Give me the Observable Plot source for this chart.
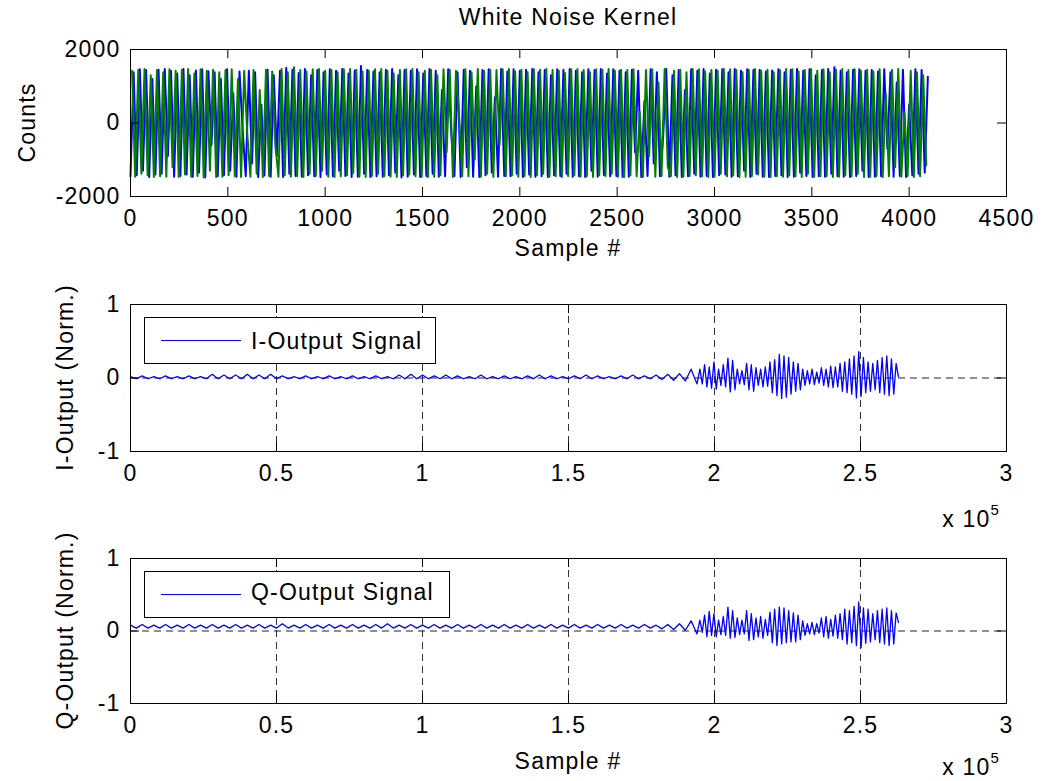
<!DOCTYPE html>
<html>
<head>
<meta charset="utf-8">
<script src="https://cdn.jsdelivr.net/npm/d3@7"></script>
<script src="https://cdn.jsdelivr.net/npm/@observablehq/plot@0.6"></script>
<style>
  html, body { margin: 0; padding: 0; background: #fff; overflow: hidden; }
  #wrap { position: relative; width: 1049px; height: 781px; background: #fff; }
  .pane { position: absolute; left: 0; }
  #overlay { position: absolute; left: 0; top: 0; pointer-events: none; }
</style>
</head>
<body>
<div id="wrap"></div>
<script>
// ---------------- DATA ----------------
// Top panel: white noise kernel (counts); blue read every kernelStep samples, green offset by half a step
const kernelStep = 16;
const kernelBlue = [
  -1450, 1380, -1420, 1460, -1300, 1440, -1470, 1200, -1400, 1450, -1380, 1470, -900, 1420, -1460, 1350,
  -1440, 1470, -1400, 1300, -1460, 1430, -1350, 1460, -1480, 1410, -600, 1380, -1450, 1200, -1420, 1460,
  -1300, 800, -1460, 1400, -200, -1450, 1420, -1100, 1380, -1470, 500, -1430, 1450, -1460, 1300, -900,
  1420, -1470, 1500, -1380, 1450, -1440, 1360, -1460, 1470, -1420, 1300, -1450, 1440, -1470, 1380, -1400,
  1460, -1450, 1420, -1300, 1470, -1440, 1350, -1470, 1430, -1460, 1550, -1380, 1440, -1470, 1400, -1450,
  1380, -1460, 1450, -1420, 1470, -1350, 1300, -1480, 1440, -1460, 1420, -1400, 1460, -1470, 1350, -1440,
  1470, -1380, 1420, -1460, 900, -1450, 1460, -300, -1440, 1380, -1470, 1450, -1200, 1420, -1460, 1000,
  -1470, 1440, -1420, 1460, -1350, 700, -1460, 1470, -1440, 1400, -1450, 1460, -1380, 1420, -1470, 1450,
  -1400, 1470, -1460, 1380, -1450, 1440, -1470, 1300, -1420, 1460, -1440, 1450, -1380, 1470, -1460, 1420,
  -1450, 1380, -1470, 1460, -1300, 1440, -1460, 1470, -1420, 1350, -1450, 1460, -1440, 1420, -1470, 1380,
  -1460, 1450, -800, 1420, -1470, 600, -1440, 1460, -1100, 1380, -1450, -400, 1470, -1460, 1300, -1420,
  1440, -1470, 900, -1450, 1460, -1380, 1420, -1460, 1470, -1440, 1350, -1470, 1450, -1420, 1460, -1400,
  1380, -1460, 1470, -1450, 1420, -1300, 1460, -1470, 1440, -1380, 1450, -1460, 1400, -1470, 1430, -1440,
  1460, -1420, 1380, -1470, 1450, -1460, 1470, -1350, 1420, -1440, 1460, -1470, 1300, -1450, 1440, -1460,
  1470, -1380, 1520, -1450, 1420, -1460, 1380, -1470, 1450, -1440, 1460, -1300, 1420, -1470, 1440, -1460,
  1400, -1450, 1460, -700, 1380, -1460, 1100, -1440, 1450, -1470, 500, -1420, 1460, -1380, 1440, -1350,
  1260
];
const kernelGreen = [
  1420, -1460, 1450, -1380, 1470, -1420, 1300, -1470, 1440, -1450, 1380, -1460, 1460, -1200, 1420, -1470,
  1450, -1400, 1470, -1460, 1350, -1440, 1460, -1480, 1420, -1300, 1450, -1470, 1380, -1460, 1440, -1420,
  1460, -1450, 1200, -1470, 1420, -300, -1460, 1440, -1380, 900, -1470, 1450, -1440, 1400, -600, -1460,
  1470, -1420, 1380, -1460, 1520, -1450, 1440, -1470, 1400, -1380, 1460, -1440, 1470, -1300, 1420, -1460,
  1440, -1470, 1380, -1450, 1460, -1420, 1470, -1360, 1450, -1460, 1400, -1470, 1430, -1440, 1460, -1380,
  1470, -1450, 1420, -1460, 1350, -1470, 1440, -1430, 1460, -1400, 1470, -1450, 1380, -1460, 1420, -1470,
  1440, -1460, 1300, -1420, 1460, -800, 1450, -1470, 1420, 200, -1440, 1460, -1450, 1380, -1000, 1470,
  -1460, 1420, -1380, 1450, -1470, 1440, -600, 1460, -1450, 1470, -1420, 1400, -1460, 1450, -1440, 1380,
  -1470, 1460, -1420, 1450, -1380, 1470, -1460, 1440, -1450, 1420, -1470, 1360, -1440, 1460, -1420, 1470,
  -1460, 1440, -1450, 1380, -1470, 1460, -1420, 1450, -1440, 1470, -1380, 1420, -1460, 1450, -1470, 1440,
  -1420, 1460, -1450, 300, -1470, 1440, -900, 1460, -1460, 1100, -1440, 1470, -1200, -1450, 1420, -1470,
  1450, -1460, 1380, -1440, 1470, -1420, 1460, -1450, 1400, -1470, 1440, -1460, 1420, -1380, 1470, -1450,
  1460, -1420, 1440, -1470, 1380, -1460, 1450, -1440, 1470, -1400, 1420, -1460, 1450, -1470, 1380, -1450,
  1440, -1460, 1470, -1420, 1460, -1450, 1400, -1470, 1440, -1380, 1470, -1460, 1420, -1450, 1460, -1440,
  1380, -1470, 1450, -1460, 1470, -1420, 1440, -1450, 1460, -1380, 1420, -1470, 1450, -1460, 1400, -1440,
  1460, -1470, 800, -1450, 1440, -1200, 1470, -1460, 300, -1440, 1420, -1470, 1380, -1450, 1300, -1150
];
const kernelXTicks = [0, 500, 1000, 1500, 2000, 2500, 3000, 3500, 4000, 4500];
const kernelYTicks = [-2000, 0, 2000];

// Output panels: quiet part read every ioFlatStep samples, burst part every ioBurstStep
const ioFlatStep = 2000;
const ioBurstStart = 195000;
const ioBurstStep = 800;
const iFlat = [
  0.02, -0.01, 0.03, -0.01, 0.02, -0.01, 0.03, -0.01, 0.02, -0.01,
  0.03, -0.01, 0.02, -0.01, 0.05, -0.01, 0.04, -0.01, 0.04, -0.01,
  0.05, -0.01, 0.04, -0.01, 0.05, -0.01, 0.03, -0.01, 0.02, -0.01,
  0.03, -0.01, 0.02, -0.01, 0.03, -0.01, 0.02, -0.01, 0.03, -0.01,
  0.02, -0.01, 0.03, -0.01, 0.02, -0.01, 0.04, -0.01, 0.05, -0.01,
  0.04, -0.01, 0.03, -0.01, 0.04, -0.01, 0.03, -0.01, 0.02, -0.01,
  0.04, -0.01, 0.02, -0.01, 0.03, -0.01, 0.02, -0.01, 0.03, -0.01,
  0.04, -0.01, 0.03, -0.01, 0.02, -0.01, 0.03, -0.01, 0.04, -0.01,
  0.03, -0.01, 0.02, -0.01, 0.03, -0.01, 0.04, -0.01, 0.03, -0.01,
  0.04, -0.02, 0.05, -0.03, 0.06, -0.04, 0.12, -0.08
];
const iBurst = [
  0.12, -0.08, 0.18, -0.12, 0.15, -0.14, 0.22, -0.15, 0.12, -0.10,
  0.18, -0.12, 0.27, -0.19, 0.24, -0.16, 0.12, -0.08, 0.10, -0.09,
  0.20, -0.16, 0.18, -0.18, 0.14, -0.10, 0.12, -0.12, 0.15, -0.11,
  0.22, -0.20, 0.25, -0.24, 0.32, -0.28, 0.30, -0.26, 0.28, -0.22,
  0.22, -0.18, 0.20, -0.16, 0.12, -0.10, 0.10, -0.08, 0.12, -0.09,
  0.08, -0.07, 0.14, -0.10, 0.12, -0.12, 0.16, -0.13, 0.15, -0.12,
  0.20, -0.18, 0.22, -0.20, 0.26, -0.22, 0.30, -0.27, 0.36, -0.25,
  0.28, -0.20, 0.22, -0.18, 0.20, -0.16, 0.24, -0.20, 0.28, -0.22,
  0.30, -0.24, 0.26, -0.22, 0.20, 0.02
];
const qFlat = [
  0.08, 0.04, 0.09, 0.04, 0.08, 0.04, 0.09, 0.04, 0.08, 0.04,
  0.09, 0.04, 0.08, 0.04, 0.09, 0.04, 0.08, 0.04, 0.09, 0.04,
  0.08, 0.04, 0.09, 0.04, 0.08, 0.04, 0.10, 0.04, 0.08, 0.04,
  0.09, 0.04, 0.08, 0.04, 0.09, 0.04, 0.08, 0.04, 0.09, 0.04,
  0.08, 0.04, 0.09, 0.04, 0.10, 0.04, 0.08, 0.04, 0.09, 0.04,
  0.08, 0.04, 0.09, 0.04, 0.08, 0.04, 0.09, 0.04, 0.08, 0.04,
  0.09, 0.04, 0.08, 0.04, 0.09, 0.04, 0.08, 0.04, 0.09, 0.04,
  0.08, 0.04, 0.09, 0.04, 0.08, 0.04, 0.09, 0.04, 0.08, 0.04,
  0.09, 0.04, 0.08, 0.04, 0.09, 0.04, 0.08, 0.04, 0.09, 0.04,
  0.08, 0.03, 0.09, 0.02, 0.10, 0.01, 0.14, -0.04
];
const qBurst = [
  0.15, -0.02, 0.22, -0.08, 0.27, -0.06, 0.24, -0.08, 0.15, -0.05,
  0.20, -0.06, 0.33, -0.10, 0.28, -0.09, 0.18, -0.05, 0.15, -0.04,
  0.28, -0.13, 0.24, -0.12, 0.18, -0.08, 0.20, -0.10, 0.16, -0.06,
  0.26, -0.16, 0.30, -0.20, 0.33, -0.18, 0.32, -0.16, 0.28, -0.15,
  0.25, -0.15, 0.22, -0.12, 0.14, -0.06, 0.10, -0.04, 0.12, -0.05,
  0.10, -0.03, 0.18, -0.08, 0.20, -0.10, 0.16, -0.07, 0.22, -0.10,
  0.24, -0.12, 0.30, -0.18, 0.28, -0.16, 0.34, -0.20, 0.40, -0.23,
  0.32, -0.17, 0.30, -0.15, 0.24, -0.12, 0.28, -0.16, 0.30, -0.18,
  0.32, -0.20, 0.28, -0.18, 0.25, 0.12
];
const ioXTicks = [0, 50000, 100000, 150000, 200000, 250000, 300000];
const ioYTicks = [-1, 0, 1];

const titleText = "White Noise Kernel";
const xLabelText = "Sample #";
const yLabels = ["Counts", "I-Output (Norm.)", "Q-Output (Norm.)"];
const legendLabels = ["I-Output Signal", "Q-Output Signal"];

// ---------------- TABLES ----------------
const blueRows = kernelBlue.map((v, i) => ({x: i * kernelStep, y: v}));
const greenRows = kernelGreen.map((v, i) => ({x: i * kernelStep + kernelStep / 2, y: v}));
function ioRows(flat, burst) {
  const rows = flat.map((v, i) => ({x: i * ioFlatStep, y: v}));
  burst.forEach((v, i) => rows.push({x: ioBurstStart + i * ioBurstStep, y: v}));
  return rows;
}
const iRows = ioRows(iFlat, iBurst);
const qRows = ioRows(qFlat, qBurst);

// ---------------- LAYOUT ----------------
const W = 1049, ML = 130, MR = 43, TL = 9;
const FONT = '"Liberation Sans", Arial, Helvetica, sans-serif';
const wrap = document.getElementById("wrap");

function panel(o) {
  const fw = W - ML - MR, fh = o.height - o.mt - o.mb;
  const marks = [];
  if (o.grid) {
    const yd = [o.yTicks[0], o.yTicks[o.yTicks.length - 1]];
    const xd = [o.xTicks[0], o.xTicks[o.xTicks.length - 1]];
    marks.push(Plot.ruleX(o.xTicks.filter(d => !xd.includes(d)), {x: d => d, stroke: "#333", strokeDasharray: "7,5"}));
    marks.push(Plot.ruleY(o.yTicks.filter(d => !yd.includes(d)), {y: d => d, stroke: "#222", strokeDasharray: "7,5"}));
  }
  marks.push(...o.marks);
  marks.push(
    Plot.frame({stroke: "#000", strokeWidth: 1}),
    Plot.tickX(o.xTicks, {x: d => d, insetTop: fh - TL, stroke: "#000"}),
    Plot.tickX(o.xTicks, {x: d => d, insetBottom: fh - TL, stroke: "#000"}),
    Plot.tickY(o.yTicks, {y: d => d, insetRight: fw - TL, stroke: "#000"}),
    Plot.tickY(o.yTicks, {y: d => d, insetLeft: fw - TL, stroke: "#000"}),
    Plot.axisX(o.xTicks, {tickSize: 0, tickPadding: 13, tickFormat: o.xFormat, label: null}),
    Plot.axisY(o.yTicks, {tickSize: 0, tickPadding: 10, tickFormat: d => String(d), label: null})
  );
  const svg = Plot.plot({
    width: W, height: o.height,
    marginLeft: ML, marginRight: MR, marginTop: o.mt, marginBottom: o.mb,
    style: {fontFamily: FONT, fontSize: "23px", letterSpacing: "1.2px", background: "transparent", color: "#000", overflow: "visible"},
    x: {domain: o.xDomain},
    y: {domain: o.yDomain},
    marks
  });
  const div = document.createElement("div");
  div.className = "pane";
  div.style.top = o.top + "px";
  div.appendChild(svg);
  wrap.appendChild(div);
}

panel({
  top: 0, height: 270, mt: 49, mb: 74,
  xDomain: [0, 4500], yDomain: [-2000, 2000],
  xTicks: kernelXTicks, yTicks: kernelYTicks, xFormat: d => String(d),
  marks: [
    Plot.line(blueRows, {x: "x", y: "y", stroke: "#0000ff", strokeWidth: 2}),
    Plot.line(greenRows, {x: "x", y: "y", stroke: "#008000", strokeWidth: 2})
  ]
});
panel({
  top: 270, height: 250, mt: 34, mb: 69, grid: true,
  xDomain: [0, 300000], yDomain: [-1, 1],
  xTicks: ioXTicks, yTicks: ioYTicks, xFormat: d => String(d / 1e5),
  marks: [Plot.line(iRows, {x: "x", y: "y", stroke: "#0000ff", strokeWidth: 1.3})]
});
panel({
  top: 520, height: 261, mt: 38, mb: 78, grid: true,
  xDomain: [0, 300000], yDomain: [-1, 1],
  xTicks: ioXTicks, yTicks: ioYTicks, xFormat: d => String(d / 1e5),
  marks: [Plot.line(qRows, {x: "x", y: "y", stroke: "#0000ff", strokeWidth: 1.3})]
});

// ---------------- ANNOTATIONS (title, labels, legends) ----------------
const ov = d3.select(wrap).append("svg").attr("id", "overlay")
  .attr("width", W).attr("height", 781)
  .style("font-family", FONT).style("font-size", "23px").style("letter-spacing", "1.2px");
const cx = ML + (W - ML - MR) / 2;

ov.append("text").attr("x", cx).attr("y", 25).attr("text-anchor", "middle").text(titleText);
ov.append("text").attr("x", cx).attr("y", 256).attr("text-anchor", "middle").text(xLabelText);
ov.append("text").attr("x", cx).attr("y", 769).attr("text-anchor", "middle").text(xLabelText);

[[35, 122.5], [73, 377.5], [73, 630.5]].forEach(([x, y], i) => {
  ov.append("text").attr("transform", `translate(${x},${y}) rotate(-90)`)
    .attr("text-anchor", "middle").text(yLabels[i]);
});

[[1000, 527], [1000, 775]].forEach(([x, y]) => {
  const t = ov.append("text").attr("x", x).attr("y", y).attr("text-anchor", "end");
  t.append("tspan").text("x 10");
  t.append("tspan").attr("dy", -12).attr("font-size", "15px").text("5");
});

[[317.5, 291, 348.5], [571.5, 305, 599.5]].forEach(([top, w, base], i) => {
  ov.append("rect").attr("x", 144.5).attr("y", top).attr("width", w).attr("height", 46)
    .attr("fill", "#fff").attr("stroke", "#000");
  ov.append("line").attr("x1", 161).attr("x2", 241).attr("y1", top + 23).attr("y2", top + 23)
    .attr("stroke", "#0000ff").attr("stroke-width", 1);
  ov.append("text").attr("x", 251).attr("y", base).text(legendLabels[i]);
});
</script>
</body>
</html>
